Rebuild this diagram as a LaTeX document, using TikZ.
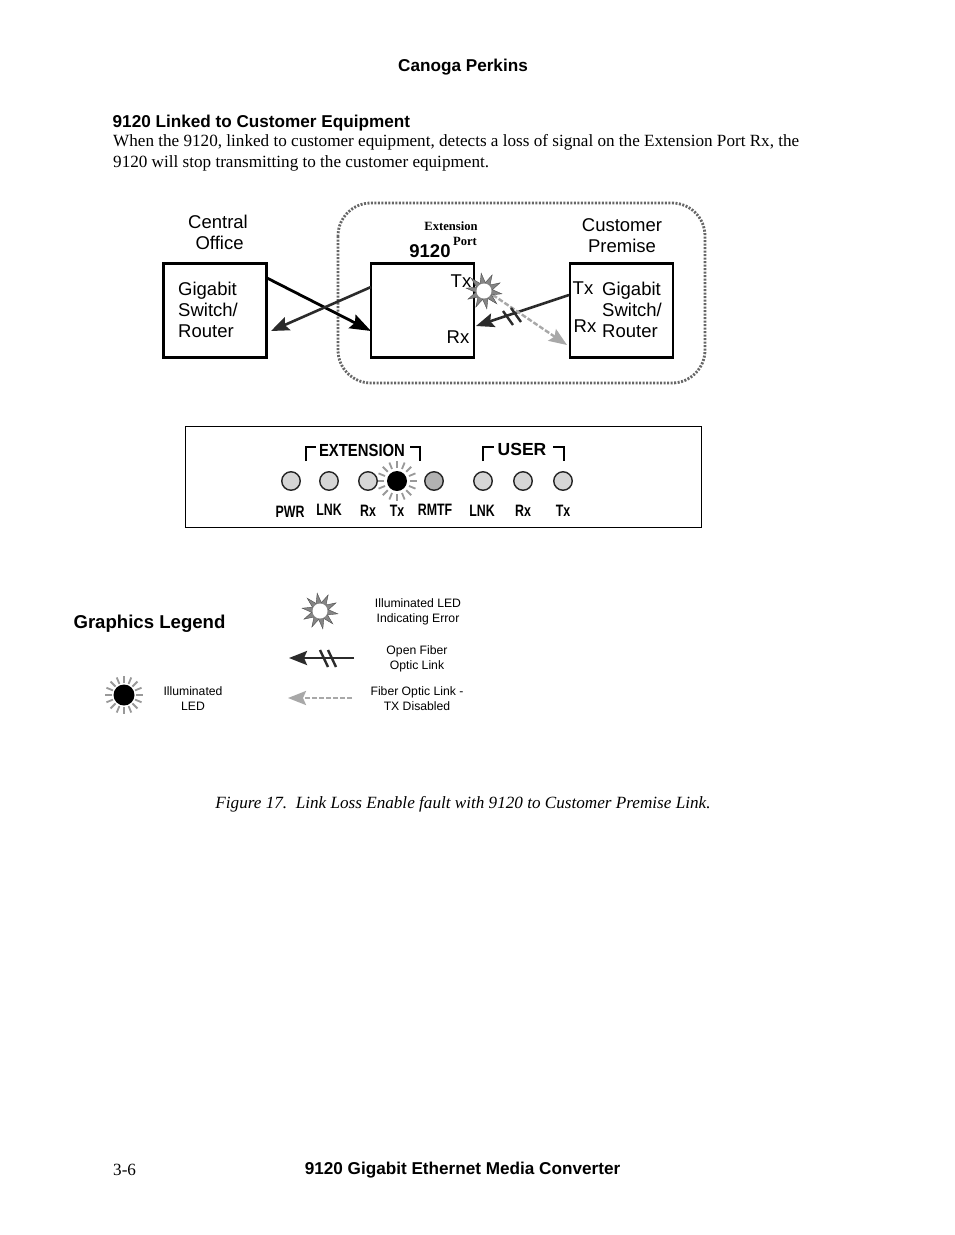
\documentclass[tikz,border=0pt]{standalone}
\usepackage{fontspec}
\usepackage{graphicx}
\setmainfont{Liberation Serif}
\newfontfamily\arialf{Liberation Sans}
\usetikzlibrary{arrows.meta}
\definecolor{ledgray}{gray}{0.84}
\definecolor{raygray}{gray}{0.6}
\definecolor{linkdark}{gray}{0.17}
\definecolor{dashgray}{gray}{0.66}
\definecolor{stargray}{gray}{0.52}
\tikzset{
  x=1pt,y=-1pt,
  body/.style={inner sep=0,anchor=west,font=\fontsize{17.13}{20}\selectfont},
  head/.style={inner sep=0,font=\arialf\bfseries\fontsize{17.15}{20}\selectfont},
  dev/.style={draw=black,line width=2.2pt,inner sep=0,minimum width=103pt,minimum height=94pt},
  dlabel/.style={inner sep=0,align=center,font=\arialf\fontsize{18.5}{21}\selectfont},
  dlabell/.style={inner sep=0,align=left,anchor=west,font=\arialf\fontsize{18.5}{21}\selectfont},
  tiny/.style={inner sep=0,font=\bfseries\fontsize{12.6}{13}\selectfont},
  led/.style={circle,draw=black!85,line width=1.4pt,fill=ledgray,minimum size=18.5pt,inner sep=0},
  ledon/.style={circle,fill=black,minimum size=20pt,inner sep=0},
  ledlab/.style={inner sep=0,font=\arialf\bfseries\fontsize{16.5}{18}\selectfont},
  panelhead/.style={inner sep=0,font=\arialf\bfseries\fontsize{17.5}{18}\selectfont},
  bracket/.style={draw=black,line width=1.5pt},
  legendt/.style={inner sep=0,align=center,font=\arialf\fontsize{12.2}{15}\selectfont},
  fiber/.style={draw=linkdark,line width=2.6pt,-{Stealth[length=18pt,width=14pt,inset=3pt]}},
  fiberb/.style={draw=black,line width=2.8pt,-{Stealth[length=21pt,width=15pt,inset=3pt]}},
  txoff/.style={draw=dashgray,line width=2.4pt,dash pattern=on 5pt off 2pt,-{Stealth[length=18pt,width=14pt,inset=3pt]}},
  cut/.style={draw=linkdark,line width=2.4pt},
  ray/.style={draw=raygray,line width=1.8pt},
}
\newcommand{\errstar}[3]{% x y scale
  \fill[stargray,draw=black!70,line width=.4pt]
    ({#1+#3*18*cos(9)},{#2+#3*18*sin(9)})
    \foreach \a in {0,36,...,324} {
      -- ({#1+#3*8.5*cos(\a+27)},{#2+#3*8.5*sin(\a+27)})
      -- ({#1+#3*18*cos(\a+45)},{#2+#3*18*sin(\a+45)})
    } -- cycle;
  \fill[white] (#1,#2) circle ({#3*7.5});
}
\newcommand{\ledrays}[5]{% x y r1 r2 step
  \foreach \a in {0,#5,...,359} {
    \draw[ray] ({#1+#3*cos(\a)},{#2+#3*sin(\a)}) -- ({#1+#4*cos(\a)},{#2+#4*sin(\a)});
  }
}
\begin{document}
\begin{tikzpicture}
\useasboundingbox (0,0) rectangle (954,1235);
\fill[white] (0,0) rectangle (954,1235);
% page text
\node[head] (title) at (463,67) {Canoga Perkins};
\node[head,anchor=west] (sect) at (112.5,123) {9120 Linked to Customer Equipment};
\node[body] (p1) at (113,142) {When the 9120, linked to customer equipment, detects a loss of signal on the Extension Port Rx, the};
\node[body] (p2) at (113,163) {9120 will stop transmitting to the customer equipment.};
% network diagram
\draw[draw=black!60,line width=2.8pt,dash pattern=on 2pt off 1.5pt,rounded corners=33pt] (338,203) rectangle (705,383);
\node[dev] (co) at (215,310.5) {};
\node[dev] (conv) at (422.5,310.5) {};
\node[dev] (cp) at (621.5,310.5) {};
\node[dlabel] (colab) at (218,232) {Central\\[0pt]\,Office};
\node[dlabell] (cotxt) at (178,310) {Gigabit\\Switch/\\Router};
\node[tiny] (ext) at (451,226) {Extension};
\node[tiny] (port) at (465,241) {Port};
\node[inner sep=0,font=\arialf\bfseries\fontsize{18.5}{20}\selectfont] (num) at (430,251) {9120};
\node[dlabel] (tx1) at (461,281) {Tx};
\node[dlabel] (rx1) at (458,337) {Rx};
\node[dlabel] (cplab) at (622,235.5) {Customer\\Premise};
\node[dlabel] (tx2) at (583,288) {Tx};
\node[dlabel] (rx2) at (585,326) {Rx};
\node[dlabell] (cptxt) at (602,310) {Gigabit\\Switch/\\Router};
\coordinate (a1) at (267,278);
\coordinate (a2) at (371,331);
\coordinate (b1) at (371,287);
\coordinate (b2) at (271,331);
\coordinate (c1) at (569,295);
\coordinate (c2) at (476,326);
\coordinate (d1) at (487,291);
\coordinate (d2) at (567,345);
\draw[fiberb] (a1) -- (a2);
\draw[fiber] (b1) -- (b2);
\draw[fiber] (c1) -- (c2);
\draw[txoff] (d1) -- (d2);
\coordinate (m1a) at (503,311);
\coordinate (m1b) at (513,325);
\coordinate (m2a) at (511,308);
\coordinate (m2b) at (521,322);
\draw[cut] (m1a) -- (m1b);
\draw[cut] (m2a) -- (m2b);
\errstar{484}{291}{1}
% LED panel
\node[draw=black,line width=.8pt,minimum width=516pt,minimum height=101pt,inner sep=0] (panel) at (443.5,477) {};
\node[panelhead] (exth) at (362,450) {\scalebox{.85}[1]{EXTENSION}};
\node[panelhead] (userh) at (522,449) {USER};
\draw[bracket] (306,461) -- (306,447) -- (316,447);
\draw[bracket] (410,447) -- (420,447) -- (420,461);
\draw[bracket] (483,461) -- (483,447) -- (494,447);
\draw[bracket] (553,447) -- (564,447) -- (564,461);
\ledrays{397}{481}{13}{20}{22.5}
\node[led] (l1) at (291,481) {};
\node[led] (l2) at (329,481) {};
\node[led] (l3) at (368,481) {};
\node[ledon] (l4) at (397,481) {};
\node[led,fill=black!30] (l5) at (434,481) {};
\node[led] (l6) at (483,481) {};
\node[led] (l7) at (523,481) {};
\node[led] (l8) at (563,481) {};
\node[ledlab] (t1) at (290,512) {\scalebox{.75}[1]{PWR}};
\node[ledlab] (t2) at (329,510) {\scalebox{.75}[1]{LNK}};
\node[ledlab] (t3) at (368,511) {\scalebox{.75}[1]{Rx}};
\node[ledlab] (t4) at (397,511) {\scalebox{.75}[1]{Tx}};
\node[ledlab] (t5) at (435,510) {\scalebox{.75}[1]{RMTF}};
\node[ledlab] (t6) at (482,511) {\scalebox{.75}[1]{LNK}};
\node[ledlab] (t7) at (523,511) {\scalebox{.75}[1]{Rx}};
\node[ledlab] (t8) at (563,511) {\scalebox{.75}[1]{Tx}};
% legend
\node[inner sep=0,font=\arialf\bfseries\fontsize{18.6}{20}\selectfont] (leg) at (149.5,624) {Graphics Legend};
\errstar{320}{611}{1}
\node[legendt] (lg1) at (418,611.5) {Illuminated LED\\Indicating Error};
\coordinate (e1) at (354,658);
\coordinate (e2) at (289,658);
\draw[fiber] (e1) -- (e2);
\draw[cut] (320,650) -- (328,667);
\draw[cut] (328,650) -- (336,667);
\node[legendt] (lg2) at (417,658.5) {Open Fiber\\Optic Link};
\coordinate (f1) at (352,698);
\coordinate (f2) at (288,698);
\draw[txoff] (f1) -- (f2);
\node[legendt] (lg3) at (417,699) {Fiber Optic Link -\\TX Disabled};
\ledrays{124}{695}{12}{19}{22.5}
\node[ledon,minimum size=21pt] (l0) at (124,695) {};
\node[legendt] (lg4) at (193,699) {Illuminated\\LED};
% caption and footer
\node[inner sep=0,font=\itshape\fontsize{17.15}{20}\selectfont] (cap) at (463,804) {Figure 17.\ \ Link Loss Enable fault with 9120 to Customer Premise Link.};
\node[body] (pg) at (113,1170) {3-6};
\node[head] (foot) at (462.5,1170) {9120 Gigabit Ethernet Media Converter};
\end{tikzpicture}
\end{document}
